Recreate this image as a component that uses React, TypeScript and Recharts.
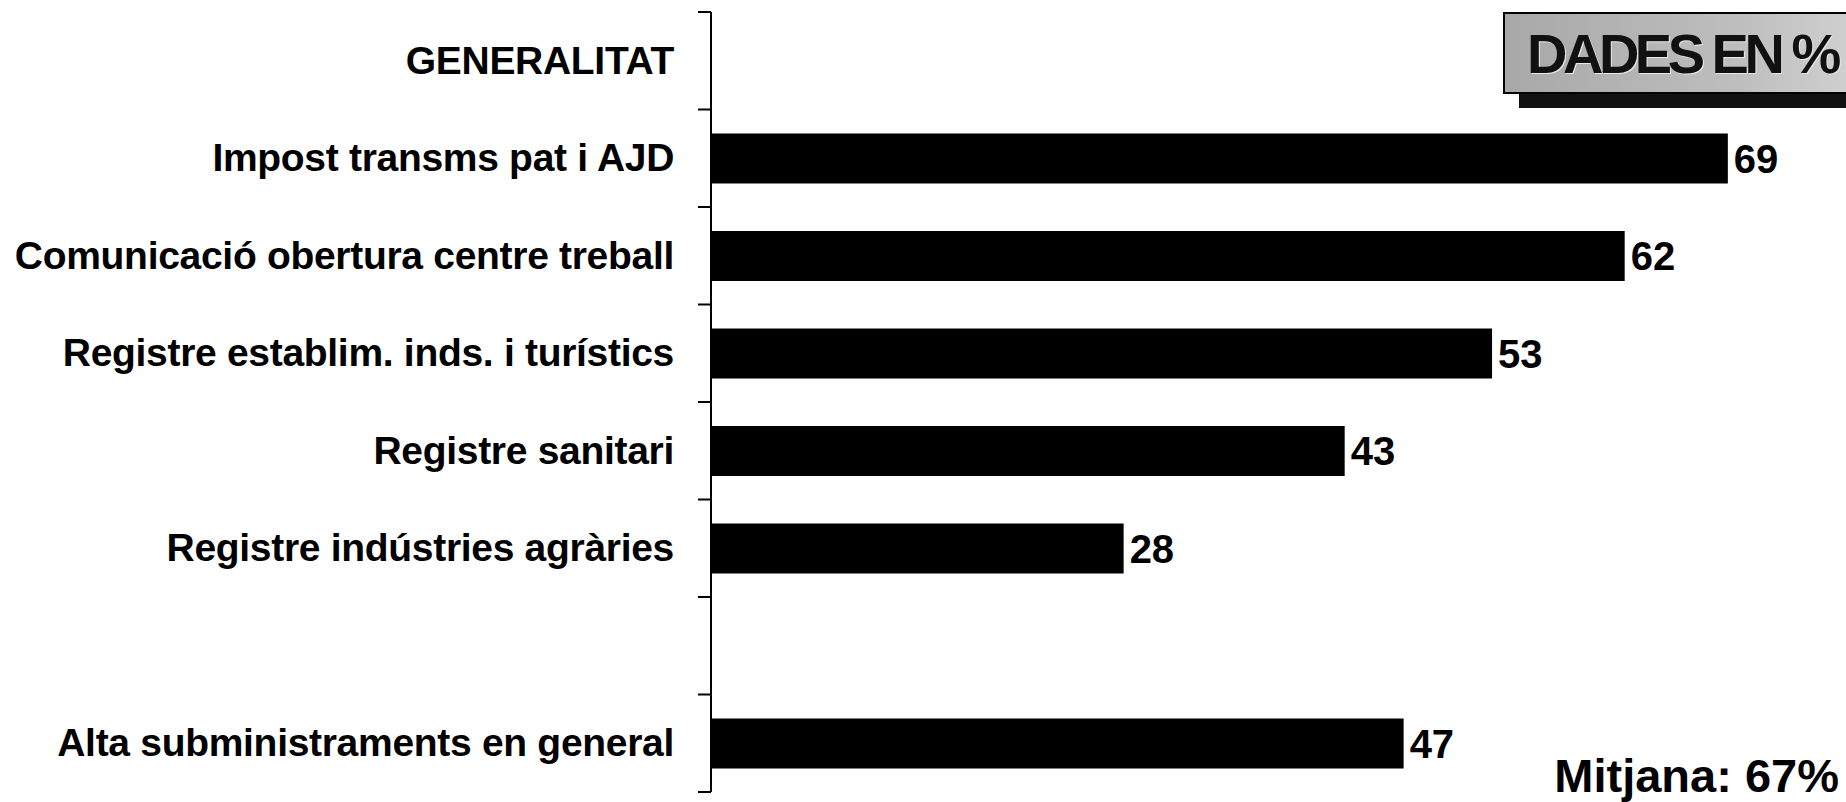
import { Bar, BarChart, LabelList, XAxis, YAxis } from "recharts";

const categories = [
  "GENERALITAT",
  "Impost transms pat i AJD",
  "Comunicació obertura centre treball",
  "Registre establim. inds. i turístics",
  "Registre sanitari",
  "Registre indústries agràries",
  " ",
  "Alta subministraments en general",
];
const values: (number | null)[] = [null, 69, 62, 53, 43, 28, null, 47];
const boundaryTicks = [0, 1, 2, 3, 4, 5, 6, 7, 8];

const FONT = "'Liberation Sans', Arial, sans-serif";

const data = categories.map((name, i) => ({ name, value: values[i] }));

function CategoryTick(props: any) {
  const { x, y, payload } = props;
  return (
    <text
      x={x}
      y={y}
      dy={13}
      textAnchor="end"
      fontFamily={FONT}
      fontWeight="bold"
      fontSize={39}
      letterSpacing={-0.3}
      fill="#000"
    >
      {payload.value}
    </text>
  );
}

function ValueLabel(props: any) {
  const { x, y, width, height, value } = props;
  if (value == null) return null;
  return (
    <text
      x={x + width + 6}
      y={y + height / 2}
      dy={14}
      fontFamily={FONT}
      fontWeight="bold"
      fontSize={40}
      fill="#000"
    >
      {value}
    </text>
  );
}

export default function App() {
  return (
    <div
      style={{
        position: "absolute",
        left: 0,
        top: 0,
        width: 1846,
        height: 802,
        overflow: "hidden",
        background: "#fff",
      }}
    >
      <BarChart
        width={1846}
        height={802}
        data={data}
        layout="vertical"
        margin={{ top: 12, right: 15, bottom: 10, left: 0 }}
        barCategoryGap={24}
      >
        <XAxis type="number" domain={[0, 76]} hide />
        {/* boundary ticks + axis line, sits next to the bars */}
        <YAxis
          type="number"
          dataKey="value"
          domain={[0, 8]}
          ticks={boundaryTicks}
          allowDataOverflow
          width={1}
          tick={() => <g />}
          tickSize={13}
          tickLine={{ stroke: "#000", strokeWidth: 2 }}
          axisLine={{ stroke: "#000", strokeWidth: 2 }}
          interval={0}
        />
        <YAxis
          yAxisId="cat"
          type="category"
          dataKey="name"
          width={710}
          tickLine={false}
          tickMargin={30}
          tick={<CategoryTick />}
          axisLine={false}
          interval={0}
        />
        <Bar dataKey="value" yAxisId="cat" fill="#000" isAnimationActive={false}>
          <LabelList dataKey="value" content={<ValueLabel />} />
        </Bar>
      </BarChart>

      <div
        style={{
          position: "absolute",
          left: 1503,
          top: 12,
          width: 380,
          height: 82,
          border: "2px solid #000",
          background: "linear-gradient(90deg, #a8a8a8 0%, #bdbdbd 60%, #d4d4d4 100%)",
          boxShadow: "16px 14px 0 #111",
          fontFamily: FONT,
          fontWeight: "bold",
          fontSize: 56,
          letterSpacing: -4.5,
          lineHeight: "80px",
          paddingLeft: 22,
          color: "#111",
          textShadow: "1px 1px 0 #e8e8e8",
          boxSizing: "border-box",
          whiteSpace: "nowrap",
        }}
      >
        DADES EN %
      </div>

      <div
        style={{
          position: "absolute",
          right: 7,
          top: 750,
          fontFamily: FONT,
          fontWeight: "bold",
          fontSize: 47,
          lineHeight: "52px",
          color: "#000",
          whiteSpace: "nowrap",
        }}
      >
        Mitjana: 67%
      </div>
    </div>
  );
}
